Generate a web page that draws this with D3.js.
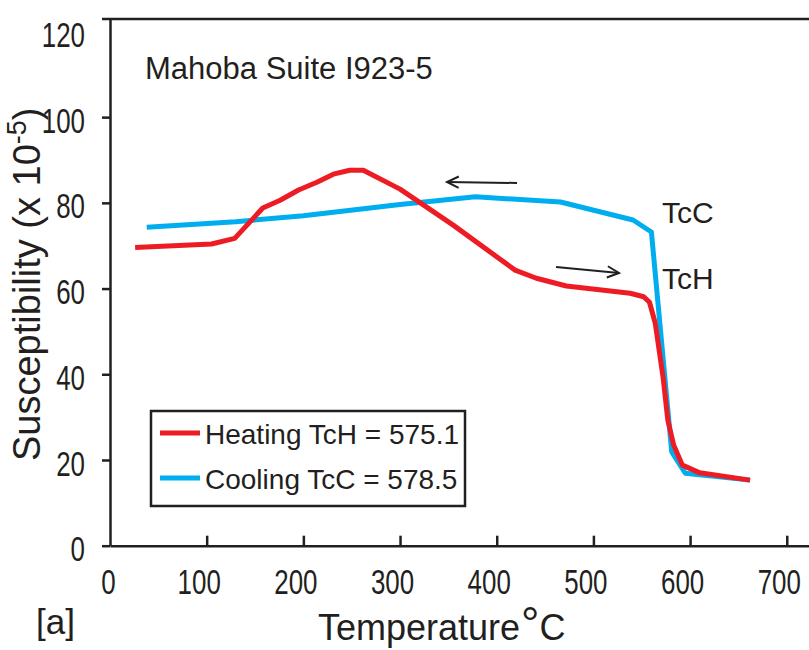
<!DOCTYPE html>
<html>
<head>
<meta charset="utf-8">
<script src="https://cdn.jsdelivr.net/npm/d3@7"></script>
<style>
  body { margin: 0; background: #fff; }
  svg { display: block; }
</style>
</head>
<body>
<div id="chart"></div>
<script>
const width = 809;
const height = 650;

// heating run (red)
const heatTemp = [26, 105, 129, 158, 176, 195, 214, 231, 248, 262, 300, 355, 419, 441, 472, 538, 552, 558, 564, 572, 577, 583, 592, 610, 662];
const heatSusc = [69.6, 70.4, 71.7, 78.8, 80.6, 83.0, 84.8, 86.7, 87.6, 87.6, 83.2, 74.8, 64.3, 62.4, 60.6, 58.9, 58.1, 56.8, 51.9, 39.4, 29.3, 23.5, 18.8, 17.0, 15.3];

// cooling run (blue)
const coolTemp = [38, 130, 200, 300, 378, 466, 541, 560, 581, 595, 662];
const coolSusc = [74.3, 75.6, 77.0, 79.6, 81.4, 80.2, 76.0, 73.2, 21.9, 16.9, 15.3];

const xTicks = [0, 100, 200, 300, 400, 500, 600, 700];
const yTicks = [0, 20, 40, 60, 80, 100, 120];

const legendLabels = ["Heating TcH = 575.1", "Cooling TcC = 578.5"];
const red = "#ED1C24";
const blue = "#00AEEF";
const ink = "#231F20";

const svg = d3.select("#chart")
    .append("svg")
    .attr("width", width)
    .attr("height", height);

const x = d3.scaleLinear().domain([0, 723]).range([110, 809]);
const y = d3.scaleLinear().domain([0, 122.9]).range([545.7, 19]);

const textFont = "'Liberation Sans', Arial, Helvetica, sans-serif";
const squeeze = 0.72; // tick digits are condensed in the original

// axes
const xAxis = svg.append("g")
    .attr("transform", `translate(0,${y(0)})`)
    .call(d3.axisBottom(x).tickValues(xTicks).tickSizeInner(-10).tickSizeOuter(0).tickPadding(23));

const yAxis = svg.append("g")
    .attr("transform", `translate(${x(0)},0)`)
    .call(d3.axisLeft(y).tickValues(yTicks).tickSizeInner(8).tickSizeOuter(0).tickPadding(17));

[xAxis, yAxis].forEach(ax => {
    ax.select(".domain").attr("stroke", ink).attr("stroke-width", 2.5);
    ax.selectAll(".tick line").attr("stroke", ink).attr("stroke-width", 2.5);
    ax.selectAll(".tick text")
        .attr("fill", ink)
        .style("font-family", textFont)
        .style("font-size", "36px");
});
xAxis.selectAll(".tick").filter(d => d === 0).select("line").remove();
xAxis.selectAll(".tick text")
    .attr("transform", `scale(${squeeze},1)`)
    .attr("x", d => (d === 0 ? -2 : -8) / squeeze);
yAxis.selectAll(".tick").filter(d => d === 120).select("line").remove();
yAxis.selectAll(".tick text")
    .attr("dy", "0.42em")
    .attr("transform", `scale(${squeeze},1)`)
    .attr("x", -25 / squeeze);

// top frame line
svg.append("line")
    .attr("x1", x(0) - 8).attr("x2", width)
    .attr("y1", y.range()[1]).attr("y2", y.range()[1])
    .attr("stroke", ink).attr("stroke-width", 2.5);

// curves
const line = d3.line().x(d => x(d[0])).y(d => y(d[1]));
const cooling = d3.zip(coolTemp, coolSusc);
const heating = d3.zip(heatTemp, heatSusc);

svg.append("path")
    .datum(cooling)
    .attr("d", line)
    .attr("fill", "none")
    .attr("stroke", blue)
    .attr("stroke-width", 5)
    .attr("stroke-linejoin", "round");

svg.append("path")
    .datum(heating)
    .attr("d", line)
    .attr("fill", "none")
    .attr("stroke", red)
    .attr("stroke-width", 5)
    .attr("stroke-linejoin", "round");

// direction arrows
function arrow(x1, y1, x2, y2) {
    const g = svg.append("g").attr("stroke", ink).attr("stroke-width", 2).attr("fill", "none");
    g.append("line").attr("x1", x1).attr("y1", y1).attr("x2", x2).attr("y2", y2);
    const a = Math.atan2(y2 - y1, x2 - x1);
    const len = 13, spread = 0.45;
    g.append("path").attr("d",
        `M${x2 - len * Math.cos(a - spread)},${y2 - len * Math.sin(a - spread)}` +
        `L${x2},${y2}` +
        `L${x2 - len * Math.cos(a + spread)},${y2 - len * Math.sin(a + spread)}`);
}
arrow(517, 183, 447, 182);
arrow(556, 267, 619, 273);

// annotations
svg.append("text")
    .attr("x", 145).attr("y", 79)
    .style("font-family", textFont).style("font-size", "31px")
    .attr("fill", ink)
    .text("Mahoba Suite I923-5");

svg.append("text")
    .attr("x", 662).attr("y", 223)
    .style("font-family", textFont).style("font-size", "30px")
    .attr("fill", ink)
    .text("TcC");

svg.append("text")
    .attr("x", 662).attr("y", 289)
    .style("font-family", textFont).style("font-size", "30px")
    .attr("fill", ink)
    .text("TcH");

svg.append("text")
    .attr("x", 36).attr("y", 634)
    .style("font-family", textFont).style("font-size", "35px")
    .attr("fill", ink)
    .text("[a]");

// axis titles
const xTitle = svg.append("text")
    .attr("x", 318).attr("y", 640)
    .style("font-family", textFont).style("font-size", "36px")
    .attr("fill", ink);
xTitle.append("tspan").text("Temperature");
xTitle.append("tspan").attr("dx", 1).style("font-size", "46px").text("°");
xTitle.append("tspan").text("C");

const yTitle = svg.append("text")
    .attr("transform", "translate(40,461) rotate(-90)")
    .style("font-family", textFont).style("font-size", "38px")
    .attr("fill", ink);
yTitle.append("tspan").text("Susceptibility (x 10");
yTitle.append("tspan").attr("dy", -14).style("font-size", "27px").text("-5");
yTitle.append("tspan").attr("dy", 14).text(")");

// legend
const legend = svg.append("g");
legend.append("rect")
    .attr("x", 151).attr("y", 411)
    .attr("width", 314).attr("height", 95)
    .attr("fill", "#fff")
    .attr("stroke", ink).attr("stroke-width", 2.5);

const items = legend.selectAll(".item")
    .data(legendLabels)
    .enter()
    .append("g")
    .attr("class", "item")
    .attr("transform", (d, i) => `translate(160,${433 + i * 45})`);

items.append("line")
    .attr("x1", 0).attr("x2", 40)
    .attr("stroke", (d, i) => i === 0 ? red : blue)
    .attr("stroke-width", 5);

items.append("text")
    .attr("x", 45).attr("y", 11)
    .style("font-family", textFont).style("font-size", "28px")
    .attr("fill", ink)
    .text(d => d);
</script>
</body>
</html>
